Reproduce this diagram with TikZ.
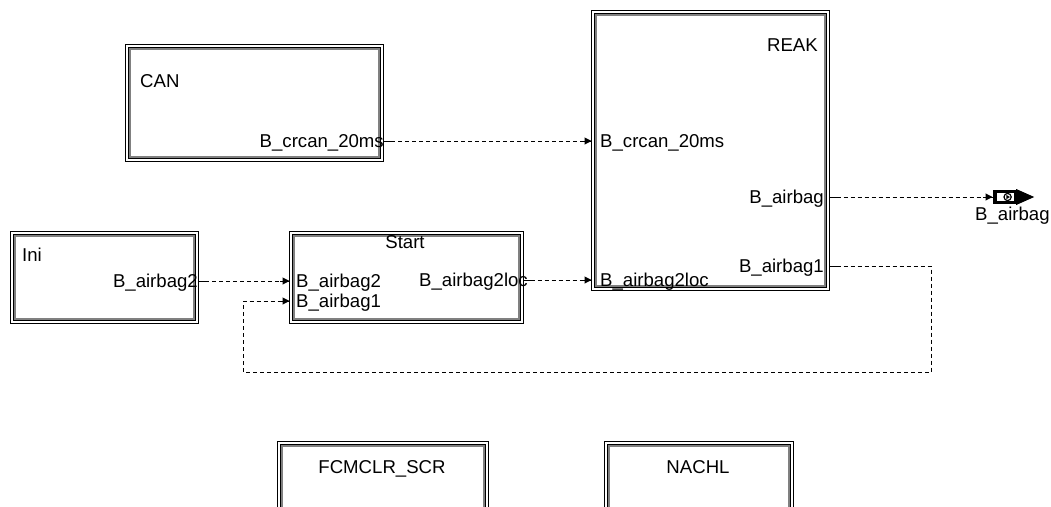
\documentclass[tikz,border=0pt]{standalone}
\usepackage{fontspec}
\setmainfont{Liberation Sans}
\usetikzlibrary{arrows.meta}
\begin{document}
\begin{tikzpicture}[x=1pt,y=-1pt,
  lbl/.style={inner sep=0pt, font=\fontsize{18.6}{20}\selectfont},
  port/.style={lbl, text height=14pt, text depth=2pt},
  blk/.style={draw=black, line width=1pt, anchor=north west, inner sep=0pt, outer sep=0pt},
  conn/.style={line width=1pt, dash pattern=on 4pt off 3pt, -{Triangle[length=7pt,width=7pt]}},
  lead/.style={line width=1pt}]
\clip (0,0) rectangle (1051,506);
\fill[white] (0,0) rectangle (1051,506);

% blocks
\node[blk, minimum width=258pt, minimum height=117pt] (can)   at (125.5,44.5)  {};
\node[blk, minimum width=238pt, minimum height=280pt] (reak)  at (591.5,10.5)  {};
\node[blk, minimum width=188pt, minimum height=92pt]  (ini)   at (10.5,231.5)  {};
\node[blk, minimum width=234pt, minimum height=92pt]  (start) at (289.5,231.5) {};
\node[blk, minimum width=211pt, minimum height=100pt] (fcm)   at (277.5,441.5) {};
\node[blk, minimum width=189pt, minimum height=100pt] (nachl) at (604.5,441.5) {};
\foreach \n in {can,reak,ini,start,fcm,nachl}{
  \draw[black, line width=0.9pt] ([shift={(3,3)}]\n.north west) rectangle ([shift={(-3,-3)}]\n.south east);
  \draw[gray, line width=1.4pt] ([shift={(4.4,4.4)}]\n.north west) rectangle ([shift={(-4.4,-4.4)}]\n.south east);
}

% titles
\node[lbl, anchor=base west] (cant) at (140,87) {CAN};
\node[lbl, anchor=base east] (reakt) at (818,51) {REAK};
\node[lbl, anchor=base west] (init) at (22,261) {Ini};
\node[lbl, anchor=base] (startt) at (405,248) {Start};
\node[lbl, anchor=base] (fcmt) at (382,473) {FCMCLR\_SCR};
\node[lbl, anchor=base] (nachlt) at (698,473) {NACHL};

% port labels
\node[port, anchor=east] (canp)  at (384,141) {B\_crcan\_20ms};
\node[port, anchor=west] (rin1)  at (600,141) {B\_crcan\_20ms};
\node[port, anchor=west] (rin2)  at (600,280) {B\_airbag2loc};
\node[port, anchor=east] (rout1) at (824,197) {B\_airbag};
\node[port, anchor=east] (rout2) at (824,266) {B\_airbag1};
\node[port, anchor=east] (inip)  at (198,281) {B\_airbag2};
\node[port, anchor=west] (sin1)  at (296,281) {B\_airbag2};
\node[port, anchor=west] (sin2)  at (296,301) {B\_airbag1};
\node[port, anchor=east] (sout)  at (528,280) {B\_airbag2loc};

% output port
\node[draw, line width=2.2pt, minimum width=19pt, minimum height=11pt, inner sep=0pt, anchor=west] (outp) at (995,197) {};
\draw[line width=2pt] ([shift={(-1.5,-7)}]outp.west) -- ([shift={(-1.5,7)}]outp.west);
\fill ([shift={(0,-8)}]outp.east) -- ([shift={(18,0)}]outp.east) -- ([shift={(0,8)}]outp.east) -- cycle;
\draw[line width=1.2pt] ([shift={(2,0)}]outp.center) circle (3.6pt);
\fill ([shift={(0.8,-2.1)}]outp.center) -- ([shift={(4.3,0)}]outp.center) -- ([shift={(0.8,2.1)}]outp.center) -- cycle;
\node[lbl, anchor=base west] (outl) at (975,220) {B\_airbag};

% loop corners
\coordinate (lr) at (931,372);
\coordinate (ll) at (243,372);

% connectors
\draw[conn] (canp.east) -- (reak.west |- rin1);
\draw[conn] (inip.east) -- (start.west |- sin1);
\draw[conn] (start.east |- sout) -- (reak.west |- rin2);
\draw[conn] (reak.east |- rout1) -- ([xshift=-2.5pt]outp.west);
\draw[conn] (reak.east |- rout2) -| (lr) -- (ll) |- (start.west |- sin2);

% solid leads
\draw[lead] (canp.east) -- ++(10,0);
\draw[lead] (reak.west |- rin1) -- ++(-10,0);
\draw[lead] (inip.east) -- ++(10,0);
\draw[lead] (start.west |- sin1) -- ++(-10,0);
\draw[lead] (start.east |- sout) -- ++(10,0);
\draw[lead] (reak.west |- rin2) -- ++(-10,0);
\draw[lead] (reak.east |- rout1) -- ++(10,0);
\draw[lead] ([xshift=-2.5pt]outp.west) -- ++(-10,0);
\draw[lead] (reak.east |- rout2) -- ++(10,0);
\draw[lead] (start.west |- sin2) -- ++(-10,0);
\end{tikzpicture}
\end{document}
